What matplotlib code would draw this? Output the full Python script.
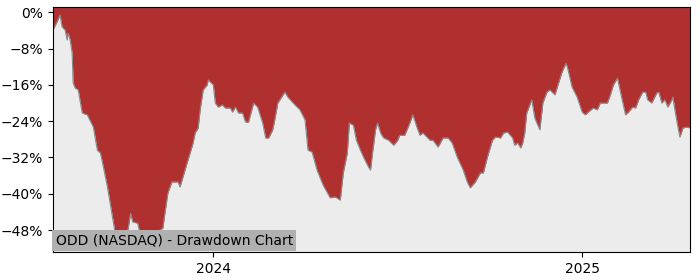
import matplotlib
matplotlib.use("Agg")
import matplotlib.pyplot as plt
import matplotlib.dates as mdates
from matplotlib.ticker import FuncFormatter, MultipleLocator
import pandas as pd

title = "ODD (NASDAQ) - Drawdown Chart"

dates = [
    "2023-07-26", "2023-07-30", "2023-08-02", "2023-08-04", "2023-08-07", "2023-08-09",
    "2023-08-10", "2023-08-12", "2023-08-14", "2023-08-15", "2023-08-17", "2023-08-20",
    "2023-08-24", "2023-08-29", "2023-09-04", "2023-09-08", "2023-09-11", "2023-09-14",
    "2023-09-18", "2023-09-23", "2023-09-26", "2023-10-01", "2023-10-08", "2023-10-11",
    "2023-10-13", "2023-10-18", "2023-10-21", "2023-10-28", "2023-11-02", "2023-11-06",
    "2023-11-09", "2023-11-12", "2023-11-14", "2023-11-17", "2023-11-21", "2023-11-27",
    "2023-11-29", "2023-12-01", "2023-12-06", "2023-12-12", "2023-12-14", "2023-12-17",
    "2023-12-19", "2023-12-22", "2023-12-26", "2023-12-27", "2024-01-01", "2024-01-03",
    "2024-01-06", "2024-01-10", "2024-01-13", "2024-01-18", "2024-01-20", "2024-01-23",
    "2024-01-26", "2024-01-30", "2024-02-02", "2024-02-05", "2024-02-10", "2024-02-14",
    "2024-02-19", "2024-02-22", "2024-02-25", "2024-02-29", "2024-03-02", "2024-03-05",
    "2024-03-12", "2024-03-15", "2024-03-22", "2024-03-27", "2024-04-01", "2024-04-03",
    "2024-04-04", "2024-04-08", "2024-04-13", "2024-04-19", "2024-04-26", "2024-05-01",
    "2024-05-06", "2024-05-09", "2024-05-13", "2024-05-15", "2024-05-19", "2024-05-22",
    "2024-05-26", "2024-05-29", "2024-06-03", "2024-06-05", "2024-06-07", "2024-06-10",
    "2024-06-12", "2024-06-15", "2024-06-18", "2024-06-23", "2024-06-28", "2024-07-02",
    "2024-07-04", "2024-07-09", "2024-07-14", "2024-07-17", "2024-07-21", "2024-07-24",
    "2024-07-27", "2024-08-03", "2024-08-06", "2024-08-11", "2024-08-16", "2024-08-21",
    "2024-08-25", "2024-08-30", "2024-09-05", "2024-09-09", "2024-09-12", "2024-09-17",
    "2024-09-22", "2024-09-25", "2024-09-29", "2024-10-04", "2024-10-07", "2024-10-12",
    "2024-10-15", "2024-10-19", "2024-10-24", "2024-10-26", "2024-10-29", "2024-11-01",
    "2024-11-03", "2024-11-05", "2024-11-07", "2024-11-12", "2024-11-15", "2024-11-20",
    "2024-11-23", "2024-11-27", "2024-11-30", "2024-12-05", "2024-12-08", "2024-12-12",
    "2024-12-16", "2024-12-18", "2024-12-22", "2024-12-27", "2025-01-01", "2025-01-04",
    "2025-01-07", "2025-01-12", "2025-01-16", "2025-01-19", "2025-01-26", "2025-01-29",
    "2025-02-01", "2025-02-05", "2025-02-08", "2025-02-13", "2025-02-16", "2025-02-20",
    "2025-02-23", "2025-02-26", "2025-03-02", "2025-03-05", "2025-03-07", "2025-03-11",
    "2025-03-16", "2025-03-18", "2025-03-21", "2025-03-24", "2025-03-27", "2025-03-31",
    "2025-04-01", "2025-04-03", "2025-04-06", "2025-04-08", "2025-04-11", "2025-04-15",
    "2025-04-18",
]

drawdown = [
    -3.9, -2.1, -0.6, -3.2, -3.9, -6.1, -4.6, -6.1, -9.0, -15.6, -16.7, -17.1,
    -22.2, -22.6, -25.3, -30.4, -31.0, -34.1, -38.5, -45.1, -49.1, -48.4, -48.4, -44.3,
    -46.2, -46.5, -49.5, -51.3, -52.4, -50.2, -48.0, -47.6, -44.3, -39.8, -37.4, -37.4,
    -38.5, -37.0, -33.2, -28.8, -26.6, -25.5, -21.5, -17.1, -16.0, -14.9, -16.0, -20.0,
    -20.9, -20.4, -21.1, -21.1, -22.0, -20.9, -22.2, -22.2, -24.2, -24.2, -20.0, -20.9,
    -24.4, -27.7, -27.7, -25.9, -23.7, -20.0, -17.6, -18.7, -20.4, -21.5, -23.7, -28.2,
    -30.4, -30.8, -34.8, -38.1, -40.9, -40.7, -41.4, -35.4, -31.0, -24.4, -24.9, -28.2,
    -30.4, -31.9, -34.1, -34.8, -31.0, -25.9, -24.4, -26.6, -27.7, -28.2, -29.3, -28.2,
    -27.1, -27.1, -24.4, -22.6, -25.3, -27.1, -26.6, -28.2, -28.2, -29.7, -27.7, -27.7,
    -28.8, -31.9, -34.8, -37.4, -38.7, -37.4, -35.4, -35.4, -31.9, -28.2, -27.5, -27.7,
    -26.6, -26.4, -27.7, -29.3, -28.8, -29.9, -28.8, -26.6, -22.2, -19.3, -23.3, -25.9,
    -20.0, -17.6, -17.1, -18.2, -16.0, -13.2, -11.2, -12.7, -16.5, -18.7, -22.0, -22.6,
    -22.0, -21.1, -21.5, -20.0, -20.0, -18.2, -16.0, -14.5, -17.6, -22.6, -22.0, -20.9,
    -21.1, -19.3, -17.6, -17.6, -19.3, -20.0, -17.8, -17.6, -20.0, -19.3, -20.9, -19.3,
    -18.7, -21.5, -25.3, -27.5, -25.5, -25.3,
    -25.5,
]

x = pd.to_datetime(dates)

fig = plt.figure(figsize=(7, 2.8), dpi=100)
ax = fig.add_axes([0.0757, 0.099, 0.91, 0.875])
ax.set_facecolor("#ececec")

ax.set_ylim(-52.9, 1.1)
ax.set_xlim(x[0], x[-1])
top = ax.get_ylim()[1]

ax.fill_between(x, drawdown, top, color="#b03030", linewidth=0)
ax.plot(x, drawdown, color="#8a8a8a", linewidth=0.8)

ax.yaxis.set_major_locator(MultipleLocator(8))
ax.yaxis.set_major_formatter(FuncFormatter(lambda v, p: f"{v:.0f}%".replace("-", "\u2212")))
ax.xaxis.set_major_locator(mdates.YearLocator())
ax.xaxis.set_major_formatter(mdates.DateFormatter("%Y"))
ax.tick_params(labelsize=10)

ax.text(0.004, 0.02, title, transform=ax.transAxes, fontsize=10, va="bottom", ha="left",
        bbox=dict(facecolor="#b0b0b0", edgecolor="none", pad=2.5))

fig.savefig("out.png", dpi=100)
